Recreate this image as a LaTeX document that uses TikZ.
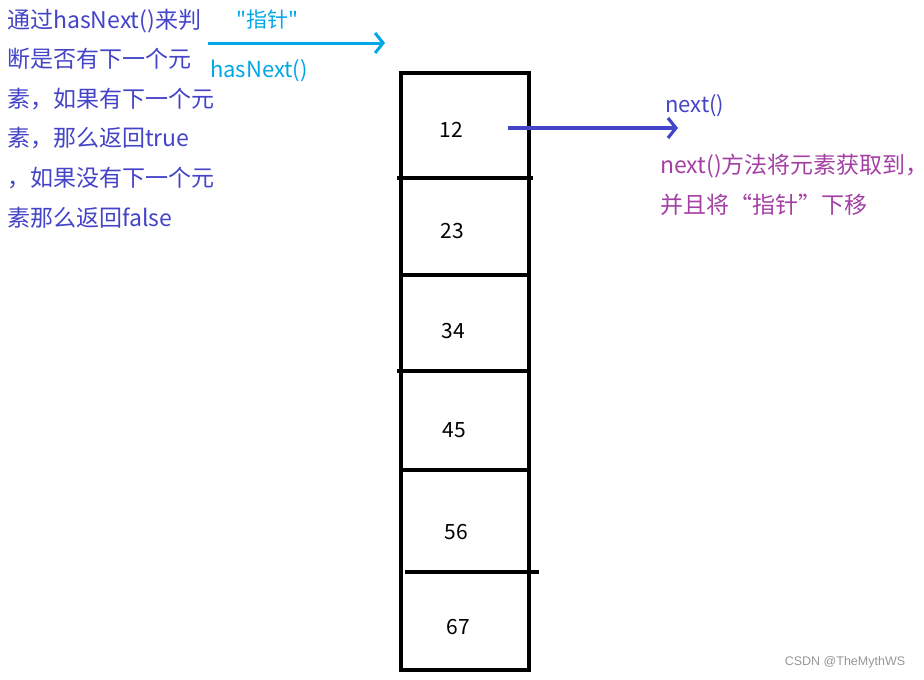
\documentclass[tikz,border=0pt]{standalone}
\usepackage{fontspec}
\setmainfont{Noto Sans CJK SC}
\newfontfamily\markfont{Liberation Sans}
\usetikzlibrary{arrows.meta}
\definecolor{note}{RGB}{68,68,200}
\definecolor{ptr}{RGB}{0,166,230}
\definecolor{hint}{RGB}{164,64,164}
\definecolor{mark}{RGB}{150,150,150}

\begin{document}
\begin{tikzpicture}[x=1pt, y=-1pt, font=\fontsize{23}{27}\selectfont,
  >={Straight Barb[length=8pt, width=20pt]},
  cell/.style={font=\fontsize{21}{25}\selectfont, inner sep=0},
  wall/.style={line width=3.2pt, line cap=rect},
  lbl/.style={anchor=base west, inner sep=0}]
  \useasboundingbox (0,0) rectangle (924,680);
  % left explanation
  \foreach \txt [count=\i] in {通过hasNext()来判, 断是否有下一个元, 素，如果有下一个元,
      素，那么返回true, ，如果没有下一个元, 素那么返回false}
    \node[lbl, text=note] (l\i) at (7, {28+39.6*(\i-1)}) {\txt};
  % the column of elements
  \draw[wall] (401,73) rectangle (529,670);
  \draw[wall] (399,178) -- (531,178);
  \draw[wall] (401,275) -- (529,275);
  \draw[wall] (399,371) -- (529,371);
  \draw[wall] (401,470) -- (529,470);
  \draw[wall] (407,572) -- (537,572);
  \node[cell] (e12) at (451,130) {12};
  \node[cell] (e23) at (452,231) {23};
  \node[cell] (e34) at (453,331) {34};
  \node[cell] (e45) at (454,430) {45};
  \node[cell] (e56) at (456,532) {56};
  \node[cell] (e67) at (458,627) {67};
  % hasNext() pointer
  \coordinate (hs) at (208,43);
  \coordinate (he) at (385,43);
  \draw[->, ptr, line width=3pt] (hs) -- (he);
  \node[text=ptr, font=\fontsize{21}{25}\selectfont] (zz) at (267,20) {\textquotedbl 指针\textquotedbl};
  \node[lbl, text=ptr, font=\fontsize{22}{26}\selectfont] (hn) at (210,77) {hasNext()};
  % next() pointer
  \coordinate (ns) at (508,128);
  \coordinate (ne) at (678,128);
  \draw[->, note, line width=3.2pt] (ns) -- (ne);
  \node[lbl, text=note, font=\fontsize{22}{26}\selectfont] (nx) at (665,112) {next()};
  \node[lbl, text=hint] (h1) at (660,173) {next()方法将元素获取到\rlap{，}};
  \node[lbl, text=hint] (h2) at (660,213) {并且将“指针”下移};
  % watermark
  \node[text=mark, font=\markfont\fontsize{12.5}{15}\selectfont] (wm) at (845,662) {CSDN @TheMythWS};
\end{tikzpicture}
\end{document}
